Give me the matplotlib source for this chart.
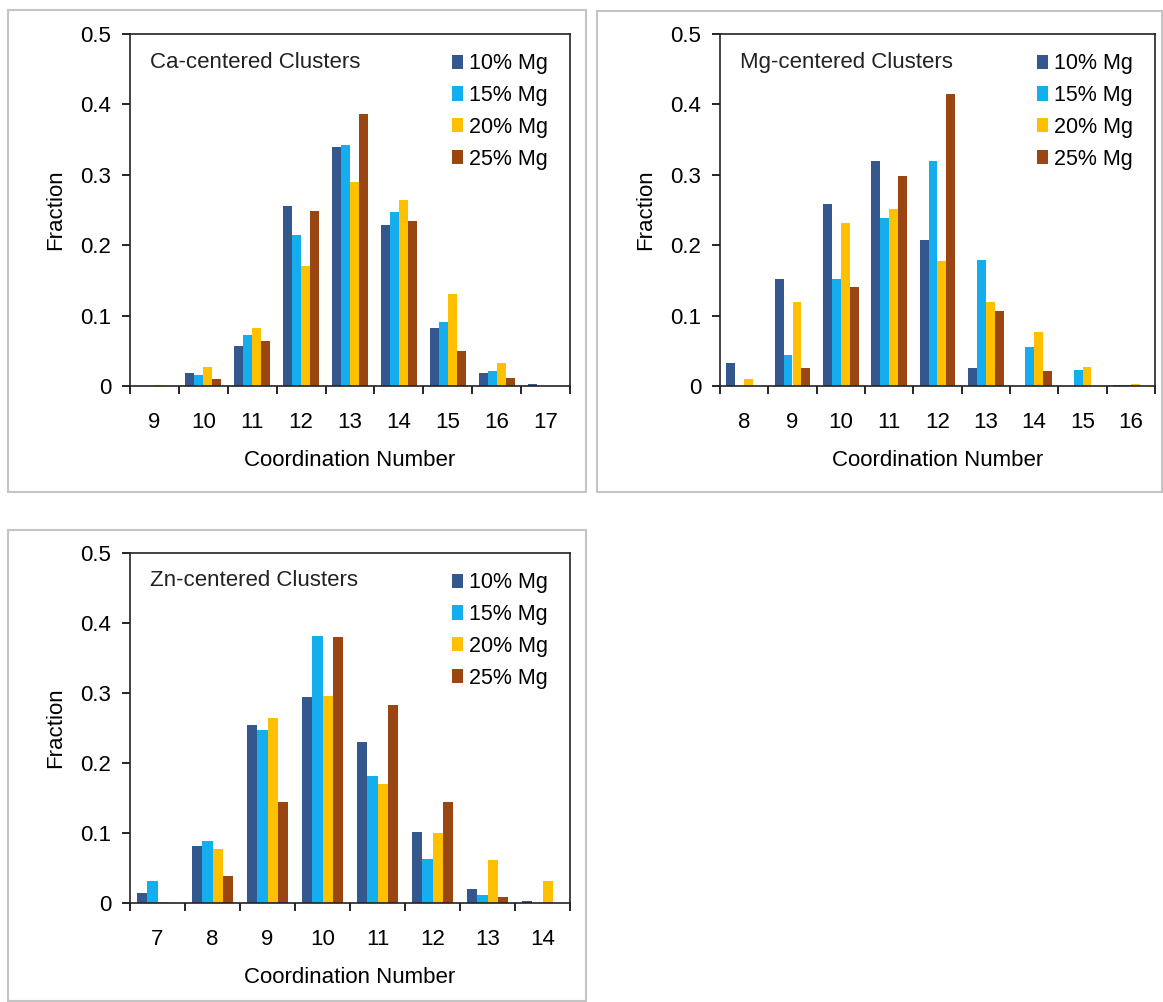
import matplotlib
matplotlib.use("Agg")
import matplotlib.pyplot as plt
from matplotlib.patches import Rectangle
import numpy as np

plt.rcParams['font.family'] = ['Liberation Sans', 'DejaVu Sans']

series_labels = ['10% Mg', '15% Mg', '20% Mg', '25% Mg']
colors = ['#34588E', '#14AEEE', '#FFC000', '#9A4612']

# Ca-centered clusters
ca_cn = ['9', '10', '11', '12', '13', '14', '15', '16', '17']
ca_10 = [0.000, 0.018, 0.057, 0.255, 0.340, 0.229, 0.083, 0.019, 0.003]
ca_15 = [0.000, 0.015, 0.072, 0.214, 0.342, 0.247, 0.091, 0.022, 0.000]
ca_20 = [0.002, 0.027, 0.083, 0.170, 0.290, 0.264, 0.130, 0.032, 0.000]
ca_25 = [0.000, 0.010, 0.064, 0.248, 0.386, 0.234, 0.050, 0.011, 0.000]

# Mg-centered clusters
mg_cn = ['8', '9', '10', '11', '12', '13', '14', '15', '16']
mg_10 = [0.033, 0.152, 0.258, 0.320, 0.208, 0.026, 0.000, 0.000, 0.002]
mg_15 = [0.000, 0.044, 0.152, 0.239, 0.319, 0.179, 0.056, 0.023, 0.002]
mg_20 = [0.010, 0.120, 0.231, 0.251, 0.177, 0.120, 0.076, 0.027, 0.003]
mg_25 = [0.000, 0.026, 0.141, 0.299, 0.415, 0.107, 0.021, 0.000, 0.000]

# Zn-centered clusters
zn_cn = ['7', '8', '9', '10', '11', '12', '13', '14']
zn_10 = [0.014, 0.082, 0.254, 0.295, 0.230, 0.102, 0.020, 0.003]
zn_15 = [0.031, 0.088, 0.247, 0.381, 0.181, 0.063, 0.011, 0.000]
zn_20 = [0.002, 0.077, 0.264, 0.296, 0.170, 0.100, 0.062, 0.031]
zn_25 = [0.000, 0.038, 0.145, 0.380, 0.283, 0.145, 0.008, 0.000]

W, H = 1163, 1002
fig = plt.figure(figsize=(W / 100, H / 100), dpi=100)


def px_axes(x0, y0, x1, y1):
    # pixel box (top-left origin) -> figure fraction axes
    return fig.add_axes([x0 / W, 1 - y1 / H, (x1 - x0) / W, (y1 - y0) / H])


def panel_border(x0, y0, x1, y1):
    fig.patches.append(Rectangle((x0 / W, 1 - y1 / H), (x1 - x0) / W, (y1 - y0) / H,
                                 transform=fig.transFigure, fill=False,
                                 edgecolor='#C4C4C4', linewidth=1.5))


def draw_panel(ax, cats, data, title):
    n = len(cats)
    x = np.arange(n)
    bw = 0.184
    for k, vals in enumerate(data):
        ax.bar(x + (k - 1.5) * bw, vals, width=bw, color=colors[k],
               label=series_labels[k], linewidth=0)
    ax.set_xlim(-0.5, n - 0.5)
    ax.set_ylim(0, 0.5)
    ax.set_yticks([0, 0.1, 0.2, 0.3, 0.4, 0.5])
    ax.set_yticklabels(['0', '0.1', '0.2', '0.3', '0.4', '0.5'])
    ax.set_xticks(x)
    ax.set_xticklabels(cats)
    ax.set_xticks(np.arange(n + 1) - 0.5, minor=True)
    ax.tick_params(axis='x', which='major', length=0, pad=19, labelsize=16)
    ax.tick_params(axis='x', which='minor', length=5.5, width=1.2, direction='out')
    ax.tick_params(axis='y', length=5.5, width=1.2, direction='out', pad=8, labelsize=16)
    for s in ax.spines.values():
        s.set_linewidth(1.2)
        s.set_color('#222222')
    ax.set_xlabel('Coordination Number', fontsize=16, labelpad=12)
    ax.set_ylabel('Fraction', fontsize=16, labelpad=10)
    ax.text(0.045, 0.92, title, transform=ax.transAxes, fontsize=16,
            ha='left', va='center', color='#222222')
    ax.legend(loc='upper right', bbox_to_anchor=(0.985, 0.988), frameon=False,
              fontsize=15.5, handlelength=0.5, handleheight=0.65, handletextpad=0.3,
              labelspacing=0.5, borderpad=0.2)


panel_border(8, 10, 586, 492)
panel_border(597, 11, 1162, 492)
panel_border(8, 530, 586, 1001)

ax1 = px_axes(130, 34, 570, 386)
draw_panel(ax1, ca_cn, [ca_10, ca_15, ca_20, ca_25], 'Ca-centered Clusters')

ax2 = px_axes(720, 34, 1155, 386)
draw_panel(ax2, mg_cn, [mg_10, mg_15, mg_20, mg_25], 'Mg-centered Clusters')

ax3 = px_axes(130, 553, 570, 903)
draw_panel(ax3, zn_cn, [zn_10, zn_15, zn_20, zn_25], 'Zn-centered Clusters')

fig.savefig('out.png', dpi=100)
